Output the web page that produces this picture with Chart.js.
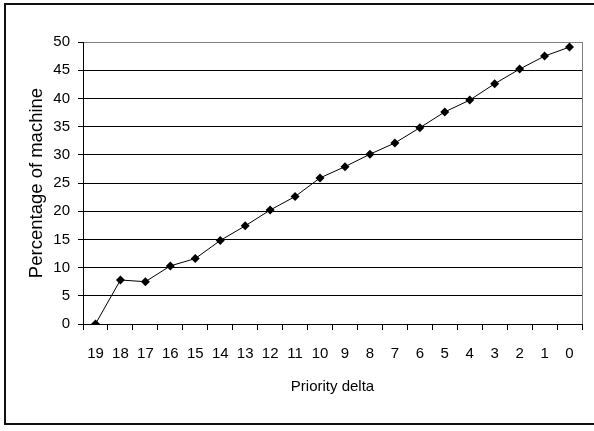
<!DOCTYPE html>
<html>
<head>
<meta charset="utf-8">
<script src="https://cdn.jsdelivr.net/npm/chart.js@4/dist/chart.umd.min.js"></script>
<style>
  html, body { margin: 0; padding: 0; background: #fff; }
  canvas { display: block; }
</style>
</head>
<body>
<canvas id="c" width="594" height="431"></canvas>
<script>
const categories = ['19','18','17','16','15','14','13','12','11','10','9','8','7','6','5','4','3','2','1','0'];
const percentValues = [0, 7.8, 7.5, 10.3, 11.6, 14.8, 17.4, 20.2, 22.6, 25.9, 27.9, 30.1, 32.1, 34.8, 37.6, 39.7, 42.6, 45.2, 47.5, 49.1];
const yMin = 0;
const yMax = 50;
const yStep = 5;
const xTitle = 'Priority delta';
const yTitle = 'Percentage of machine';

const FONT = '"Liberation Sans", Arial, sans-serif';

const framePlugin = {
  id: 'frame',
  beforeDraw(chart) {
    const ctx = chart.ctx;
    ctx.save();
    ctx.fillStyle = '#fff';
    ctx.fillRect(0, 0, chart.width, chart.height);
    ctx.restore();
  },
  afterDraw(chart) {
    const ctx = chart.ctx;
    const a = chart.chartArea;
    ctx.save();
    ctx.strokeStyle = '#000';
    ctx.lineWidth = 1;
    ctx.setLineDash([1, 1]);
    ctx.beginPath();
    ctx.moveTo(Math.round(a.left) + 0.5, Math.round(a.top) + 0.5);
    ctx.lineTo(Math.round(a.right) + 0.5, Math.round(a.top) + 0.5);
    ctx.lineTo(Math.round(a.right) + 0.5, Math.round(a.bottom));
    ctx.stroke();
    ctx.setLineDash([]);
    ctx.lineWidth = 2;
    ctx.strokeStyle = '#111';
    ctx.beginPath();
    ctx.moveTo(chart.width + 5, 4);
    ctx.lineTo(5, 4);
    ctx.lineTo(5, 424);
    ctx.lineTo(chart.width + 5, 424);
    ctx.stroke();
    ctx.restore();
  }
};

new Chart(document.getElementById('c'), {
  type: 'line',
  data: {
    labels: categories,
    datasets: [{
      data: percentValues,
      borderColor: '#000',
      borderWidth: 1,
      backgroundColor: '#000',
      pointStyle: 'rectRot',
      pointRadius: 4.5,
      pointBorderWidth: 0,
      pointBackgroundColor: '#000',
      tension: 0,
      fill: false
    }]
  },
  options: {
    responsive: false,
    animation: false,
    devicePixelRatio: 1,
    layout: { padding: { top: 42, right: 12, left: 0, bottom: 0 } },
    plugins: {
      legend: { display: false },
      tooltip: { enabled: false },
      title: { display: false }
    },
    scales: {
      x: {
        type: 'category',
        offset: true,
        afterFit(scale) { scale.height = 107; },
        grid: {
          offset: true,
          drawOnChartArea: false,
          drawTicks: true,
          tickLength: 6,
          tickColor: '#000',
          color: '#000'
        },
        border: { display: true, color: '#000', width: 1 },
        ticks: {
          color: '#000',
          font: { family: FONT, size: 15 },
          padding: 15,
          maxRotation: 0,
          autoSkip: false
        },
        title: {
          display: true,
          text: xTitle,
          color: '#000',
          font: { family: FONT, size: 15 },
          padding: { top: 0, bottom: 35 }
        }
      },
      y: {
        min: yMin,
        max: yMax,
        afterFit(scale) { scale.width = 83; },
        grid: {
          drawTicks: true,
          tickLength: 5,
          tickColor: '#000',
          lineWidth: 1,
          color(ctx) {
            if (ctx.tick && ctx.tick.value === yMax) return 'rgba(0,0,0,0)';
            return '#000';
          }
        },
        border: { display: true, color: '#000', width: 1 },
        ticks: {
          stepSize: yStep,
          color: '#000',
          font: { family: FONT, size: 15 },
          padding: 8
        },
        title: {
          display: true,
          text: yTitle,
          color: '#000',
          font: { family: FONT, size: 18.5 },
          padding: { top: 26, bottom: 0 }
        }
      }
    }
  },
  plugins: [framePlugin]
});
</script>
</body>
</html>
